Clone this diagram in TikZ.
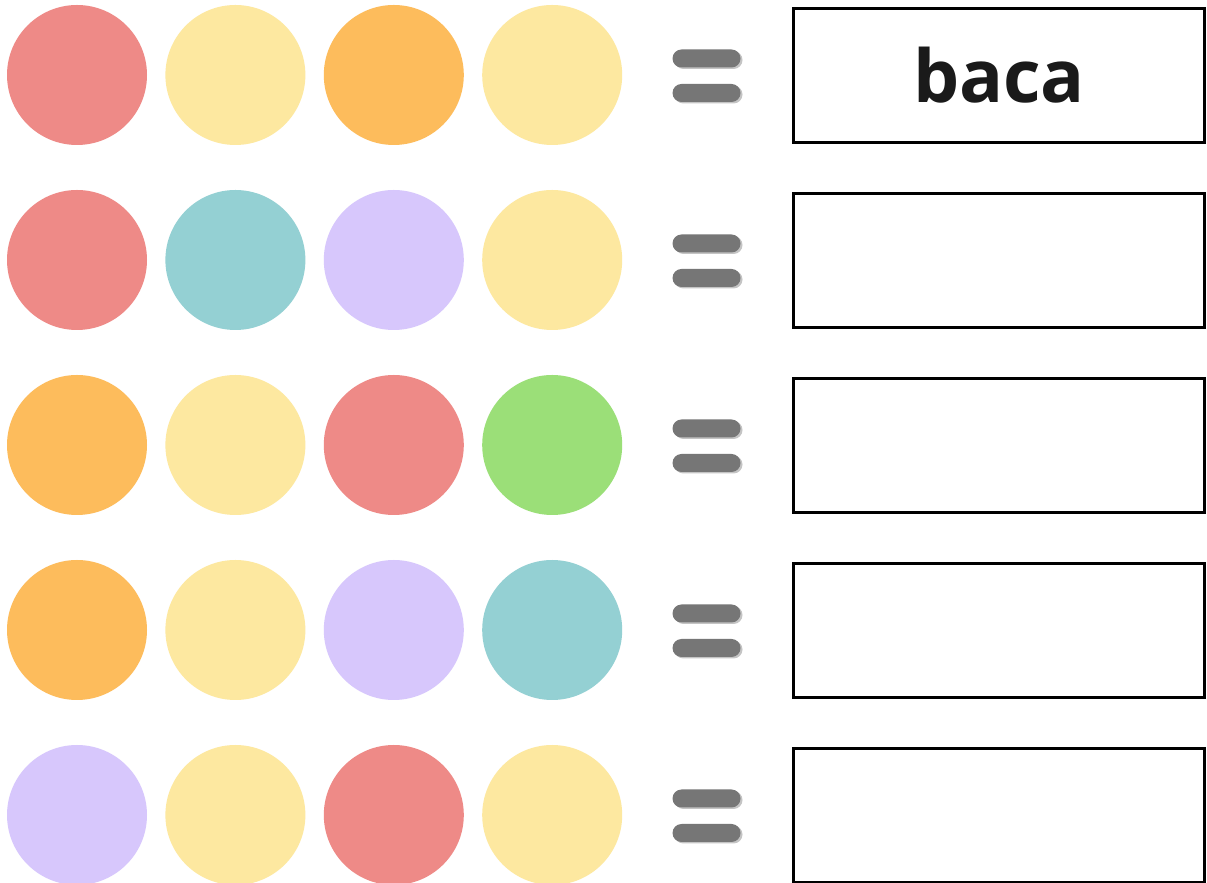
\documentclass[tikz,border=0pt]{standalone}
\usepackage{fontspec}
\setmainfont{Open Sans}
\usepackage{tikz}
\usetikzlibrary{positioning}
\definecolor{dotRed}{HTML}{EE8A87}
\definecolor{dotYellow}{HTML}{FDE8A0}
\definecolor{dotOrange}{HTML}{FDBC5C}
\definecolor{dotTeal}{HTML}{94D0D3}
\definecolor{dotLilac}{HTML}{D7C7FC}
\definecolor{dotGreen}{HTML}{9BDF78}
\definecolor{eqGrey}{HTML}{767676}
\definecolor{eqShade}{HTML}{C4C4C4}
\definecolor{wordInk}{HTML}{1A1A1A}
\tikzset{
  dot/.style={
    circle,
    minimum size=140pt,
    inner sep=0pt
  },
  eqBar/.style={
    rectangle,
    rounded corners=9pt,
    fill=eqGrey,
    minimum width=68pt,
    minimum height=18pt,
    inner sep=0pt
  },
  answerBox/.style={
    rectangle,
    draw=black,
    line width=3.2pt,
    minimum width=411pt,
    minimum height=134pt,
    inner sep=0pt,
    text=wordInk,
    font=\bfseries\fontsize{73}{80}\selectfont
  }
}

\begin{document}
\begin{tikzpicture}[x=1pt,y=1pt,node distance=18pt]
  \useasboundingbox[fill=white] (0,0) rectangle (1207,883);
  \foreach \row/\ca/\cb/\cc/\cd/\word in {
      1/dotRed/dotYellow/dotOrange/dotYellow/baca,
      2/dotRed/dotTeal/dotLilac/dotYellow/,
      3/dotOrange/dotYellow/dotRed/dotGreen/,
      4/dotOrange/dotYellow/dotLilac/dotTeal/,
      5/dotLilac/dotYellow/dotRed/dotYellow/}{
    \pgfmathsetmacro{\ypos}{883-75-185*(\row-1)}
    \node[dot,fill=\ca] (d\row a) at (77,\ypos) {};
    \node[dot,fill=\cb,right=of d\row a] (d\row b) {};
    \node[dot,fill=\cc,right=of d\row b] (d\row c) {};
    \node[dot,fill=\cd,right=of d\row c] (d\row d) {};
    % equals sign with its light edge
    \node[eqBar,fill=eqShade] at (708.5,\ypos+15) {};
    \node[eqBar,fill=eqShade] at (708.5,\ypos-19.5) {};
    \node[eqBar] (eq\row top) at (706.5,\ypos+16.5) {};
    \node[eqBar] (eq\row bot) at (706.5,\ypos-18) {};
    \node[answerBox] (box\row) at (999,\ypos-0.5) {\word};
  }
\end{tikzpicture}
\end{document}
